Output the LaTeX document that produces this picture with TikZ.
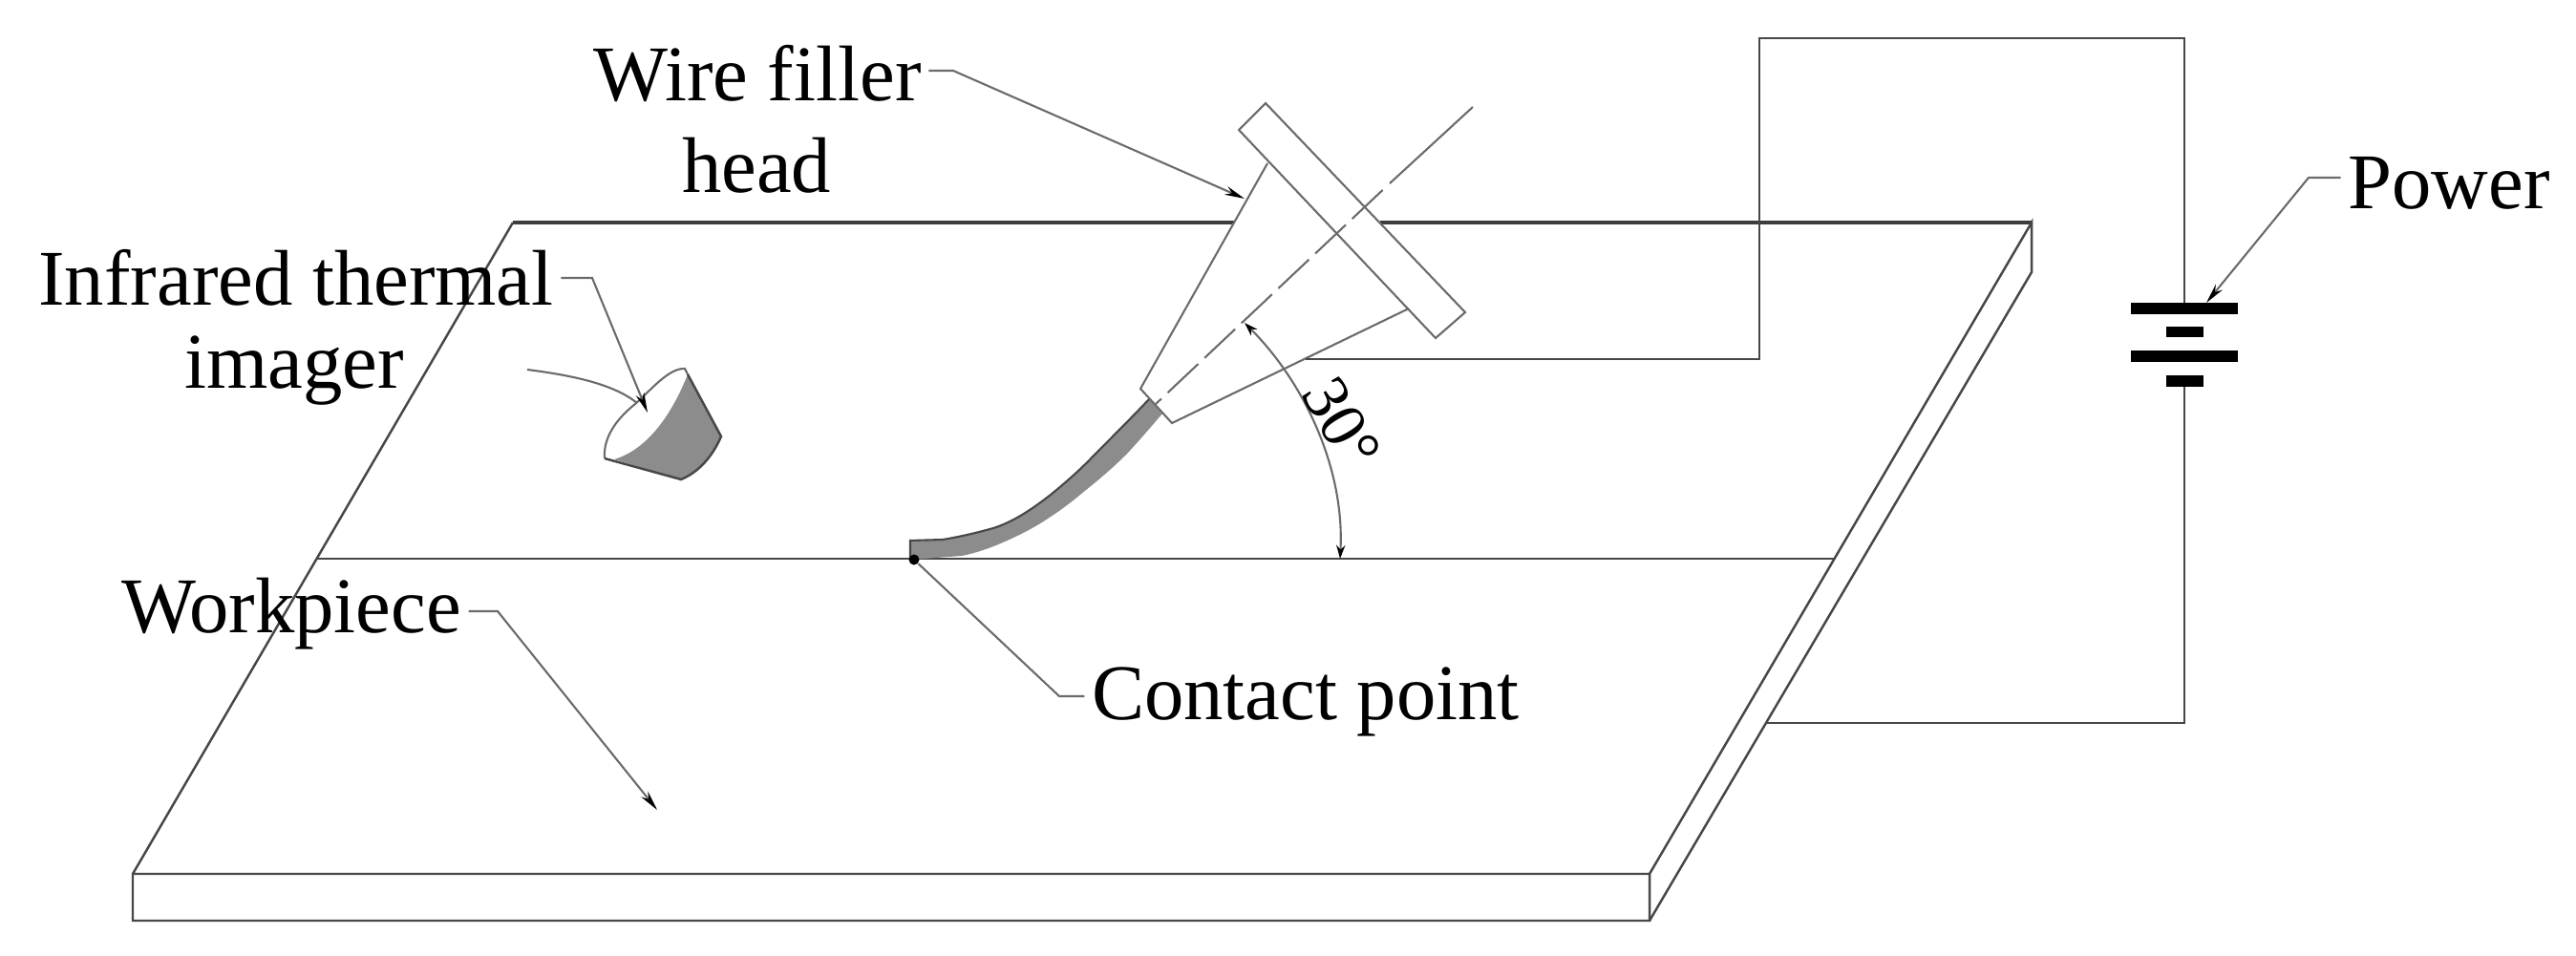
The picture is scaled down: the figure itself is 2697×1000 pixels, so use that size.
\documentclass[tikz,border=0pt]{standalone}
\usepackage{fontspec}
\setmainfont{Liberation Serif}
\usetikzlibrary{arrows.meta,calc}
\definecolor{ink}{gray}{0.28}
\definecolor{soft}{gray}{0.42}
\definecolor{bandgray}{gray}{0.55}
\tikzset{
  lbl/.style={inner sep=0pt,outer sep=2.2pt,text=black,font=\fontsize{23.5}{28}\selectfont},
  plate/.style={draw=ink,line width=0.7pt},
  heavy/.style={draw=ink!85!black,line width=0.95pt},
  thin/.style={draw=soft,line width=0.6pt},
  lead/.style={draw=soft,line width=0.6pt,-{Stealth[length=6pt,width=2.6pt,black]}},
  leadflat/.style={draw=soft,line width=0.6pt},
  axisline/.style={draw=soft,line width=0.6pt},
  bar/.style={fill=black,inner sep=0pt,outer sep=0pt,rectangle}
}
\begin{document}
\begin{tikzpicture}[x=0.01cm,y=-0.01cm]
\useasboundingbox (0,0) rectangle (2697,1000);
% plate
\coordinate (tl) at (537,233);
\coordinate (tr) at (2127,233);
\coordinate (fl) at (139,915);
\coordinate (fr) at (1727,915);
\coordinate (bl) at (139,964);
\coordinate (br) at (1727,964);
\coordinate (trb) at (2127,285);
\coordinate (ml) at (332,585);
\coordinate (mr) at (1921,585);
\coordinate (gapl) at (1292,233);
\coordinate (gapr) at (1445,233);
\draw[heavy] (gapl) -- (tl);
\draw[heavy] (gapr) -- (tr);
\draw[plate] (tl) -- (fl) -- (bl) -- (br) -- (fr) -- (fl);
\draw[plate] (fr) -- (tr) -- (trb) -- (br);
\draw[plate] (ml) -- (mr);
% wire filler band
\fill[bandgray] (953,566) -- (987,565)
  .. controls (1005,562) and (1022,558) .. (1040,553)
  .. controls (1062,546) and (1082,532) .. (1100,518)
  .. controls (1116,505) and (1132,491) .. (1147,475)
  .. controls (1166,456) and (1185,437) .. (1203,418)
  -- (1217,433)
  .. controls (1205,447) and (1193,461) .. (1180,475)
  .. controls (1166,489) and (1152,501) .. (1137,513)
  .. controls (1124,524) and (1111,534) .. (1097,543)
  .. controls (1082,553) and (1066,561) .. (1050,568)
  .. controls (1036,574) and (1022,579) .. (1007,582)
  -- (953,586) -- cycle;
\draw[ink,line width=0.6pt] (953,586) -- (953,566) -- (987,565)
  .. controls (1005,562) and (1022,558) .. (1040,553)
  .. controls (1062,546) and (1082,532) .. (1100,518)
  .. controls (1116,505) and (1132,491) .. (1147,475)
  .. controls (1166,456) and (1185,437) .. (1203,418);
% head
\coordinate (fa) at (1325,108);
\coordinate (fb) at (1297,136);
\coordinate (fc) at (1534,327);
\coordinate (fd) at (1503,354);
\draw[thin] (fa) -- (fb) -- (fd) -- (fc) -- cycle;
\coordinate (ca) at (1327,171);
\coordinate (cb) at (1194,407);
\coordinate (cc) at (1227,443);
\coordinate (cd) at (1475,323);
\draw[thin] (ca) -- (cb) -- (cc) -- (cd);
% axis
\coordinate (axt) at (1542,112);
\coordinate (axm) at (1455,192);
\coordinate (axb) at (1210,423);
\draw[axisline] (axt) -- (axm);
\draw[axisline,dash pattern=on 12.5pt off 2.6pt] ($(axm)!0.03!(axb)$) -- (axb);
% angle arc
\coordinate (arct) at (1303,338);
\coordinate (arcb) at (1403,585);
\draw[draw=soft,line width=0.6pt,{Stealth[length=4pt,width=2.6pt,black]}-{Stealth[length=4pt,width=2.6pt,black]}]
  (arct) .. controls (1365,400) and (1408,490) .. (arcb);
% thermal imager
\fill[bandgray] (643,481) .. controls (680,470) and (705,430) .. (720,392) -- (755,457)
  .. controls (745,480) and (730,495) .. (713,502) -- cycle;
\draw[ink,line width=0.7pt] (720,392) -- (755,457) .. controls (745,480) and (730,495) .. (713,502) -- (633,480);
\draw[thin] (633,480) .. controls (631,455) and (650,435) .. (665,423) .. controls (680,410) and (700,385) .. (717,386) -- (720,392);
\coordinate (tail) at (552,387);
\coordinate (tailend) at (667,422);
\draw[thin] (tail) .. controls (590,392) and (640,400) .. (tailend);
% labels
\node[lbl] (wf) at (793,77) {Wire filler};
\node[lbl] (wh) at (792,173) {head};
\node[lbl] (it) at (310,291) {Infrared thermal};
\node[lbl] (im) at (308,388) {imager};
\node[lbl] (wp) at (305,643) {Workpiece};
\node[lbl] (cp) at (1367,735) {Contact point};
\node[lbl] (pw) at (2564,192) {Power};
\node[lbl,rotate=-60,font=\fontsize{19.5}{24}\selectfont] (ang) at (1405,443) {30°};
% contact point
\node[circle,fill=black,inner sep=0pt,minimum size=0.11cm] (dot) at (957,586) {};
% battery
\node[bar,minimum width=1.12cm,minimum height=0.12cm] (b1) at (2287,322.5) {};
\node[bar,minimum width=0.39cm,minimum height=0.11cm] (b2) at (2287,347.5) {};
\node[bar,minimum width=1.12cm,minimum height=0.12cm] (b3) at (2287,372.5) {};
\node[bar,minimum width=0.39cm,minimum height=0.12cm] (b4) at (2287,399) {};
% circuit
\coordinate (wa) at (1367,376);
\coordinate (wb) at (1842,376);
\coordinate (wc) at (1842,40);
\coordinate (wd) at (2287,40);
\coordinate (we) at (1850,757);
\coordinate (wf2) at (2287,757);
\draw[plate] (wa) -- (wb) -- (wc) -- (wd) -- (b1.north);
\draw[plate] (we) -- (wf2) -- (b4.south);
% leaders
\coordinate (lwf) at (998,74);
\coordinate (twf) at (1303,208);
\draw[lead] (wf.east |- lwf) -- (lwf) -- (twf);
\coordinate (lit) at (620,291);
\coordinate (tit) at (678,432);
\draw[lead] (it.east |- lit) -- (lit) -- (tit);
\coordinate (lwp) at (521,640);
\coordinate (twp) at (688,848);
\draw[lead] (wp.east |- lwp) -- (lwp) -- (twp);
\coordinate (lcp) at (1109,729);
\draw[leadflat] (cp.west |- lcp) -- (lcp) -- (dot);
\coordinate (lpw) at (2417,186);
\coordinate (tpw) at (2310,317);
\draw[lead] (pw.west |- lpw) -- (lpw) -- (tpw);
\end{tikzpicture}
\end{document}
